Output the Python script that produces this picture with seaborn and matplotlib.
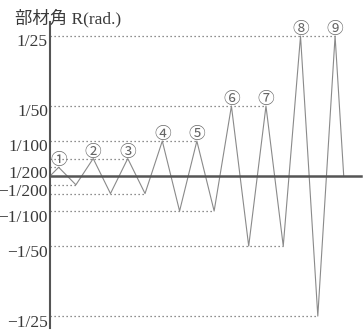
import matplotlib
matplotlib.use("Agg")
import matplotlib.pyplot as plt
import matplotlib.transforms as mtransforms
import numpy as np
import pandas as pd
import seaborn as sns

# Loading protocol: amplitude of each cycle (rad), cycles numbered 1..9
cycle_labels = ["①", "②", "③", "④", "⑤", "⑥", "⑦", "⑧", "⑨"]
amplitudes = [1/400, 1/200, 1/200, 1/100, 1/100, 1/50, 1/50, 1/25, 1/25]

tick_values = [1/25, 1/50, 1/100, 1/200, -1/200, -1/100, -1/50, -1/25]
tick_labels = ["1/25", "1/50", "1/100", "1/200",
               "\u22121/200", "\u22121/100", "\u22121/50", "\u22121/25"]
# vertical nudge of each tick label (points), crowded labels near zero moved apart
tick_nudge = [-3.2, -3.2, -3.2, -9.4, 2.9, -3.2, -3.2, -3.2]

ylabel_text = "部材角 R(rad.)"

# Build the zigzag path: quarter-cycle steps, peak then trough for each cycle,
# last cycle returns to zero after its peak
steps, rot = [0], [0.0]
for i, a in enumerate(amplitudes):
    steps.append(steps[-1] + (1 if i == 0 else 2))
    rot.append(a)
    if i < len(amplitudes) - 1:
        steps.append(steps[-1] + 2)
        rot.append(-a)
steps.append(steps[-1] + 1)
rot.append(0.0)
path = pd.DataFrame({"step": steps, "R": rot})

sns.set_theme(style="white")
plt.rcParams["font.family"] = ["Liberation Serif", "Noto Sans CJK JP"]

fig = plt.figure(figsize=(3.64, 3.35), dpi=100)
ax = fig.add_axes([50/364, 7/335, 311/364, 306/335])
ax.set_xlim(0, 36)
ax.set_ylim(-0.0434, 0.044)

axis_col = "#555555"
line_col = "#8a8a8a"
dot_col = "#6a6a6a"

# Dotted guide lines from the axis to the last peak / trough at each level
peaks = path[path["R"] > 0]
troughs = path[path["R"] < 0]
for level, grp in peaks.groupby("R"):
    ax.plot([0, grp["step"].max()], [level, level], color=dot_col,
            lw=0.9, linestyle=(0, (1, 2.2)), zorder=1)
for level, grp in troughs.groupby("R"):
    ax.plot([0, grp["step"].max()], [level, level], color=dot_col,
            lw=0.9, linestyle=(0, (1, 2.2)), zorder=1)

sns.lineplot(data=path, x="step", y="R", ax=ax, color=line_col, lw=0.8,
             estimator=None, sort=False, zorder=2)

# Cycle numbers above each peak
for lab, (_, row) in zip(cycle_labels, peaks.iterrows()):
    ax.annotate(lab, (row["step"], row["R"]), xytext=(0, 4.6),
                textcoords="offset points", ha="center", va="center",
                fontsize=12, color="#666666",
                family=["Noto Sans CJK JP", "DejaVu Sans"], zorder=3)

# Axes: vertical axis on the left, horizontal axis through zero
for s in ["top", "right"]:
    ax.spines[s].set_visible(False)
ax.spines["left"].set_color(axis_col)
ax.spines["left"].set_linewidth(1.5)
ax.spines["bottom"].set_position(("data", 0))
ax.spines["bottom"].set_color(axis_col)
ax.spines["bottom"].set_linewidth(1.8)
ax.set_xticks([])
ax.set_xlabel("")
ax.set_ylabel("")
ax.set_yticks(tick_values)
ax.set_yticklabels(tick_labels)
ax.tick_params(axis="y", length=0, pad=1.5, labelsize=12.5, labelcolor="#3a3a3a")
for lbl, dy in zip(ax.get_yticklabels(), tick_nudge):
    lbl.set_transform(lbl.get_transform() +
                      mtransforms.ScaledTranslation(0, dy/72, fig.dpi_scale_trans))

fig.text(15/364, 1 - 18/335, ylabel_text, ha="left", va="center",
         fontsize=12.5, color="#3a3a3a")

fig.savefig("out.png", dpi=100, facecolor="white")
